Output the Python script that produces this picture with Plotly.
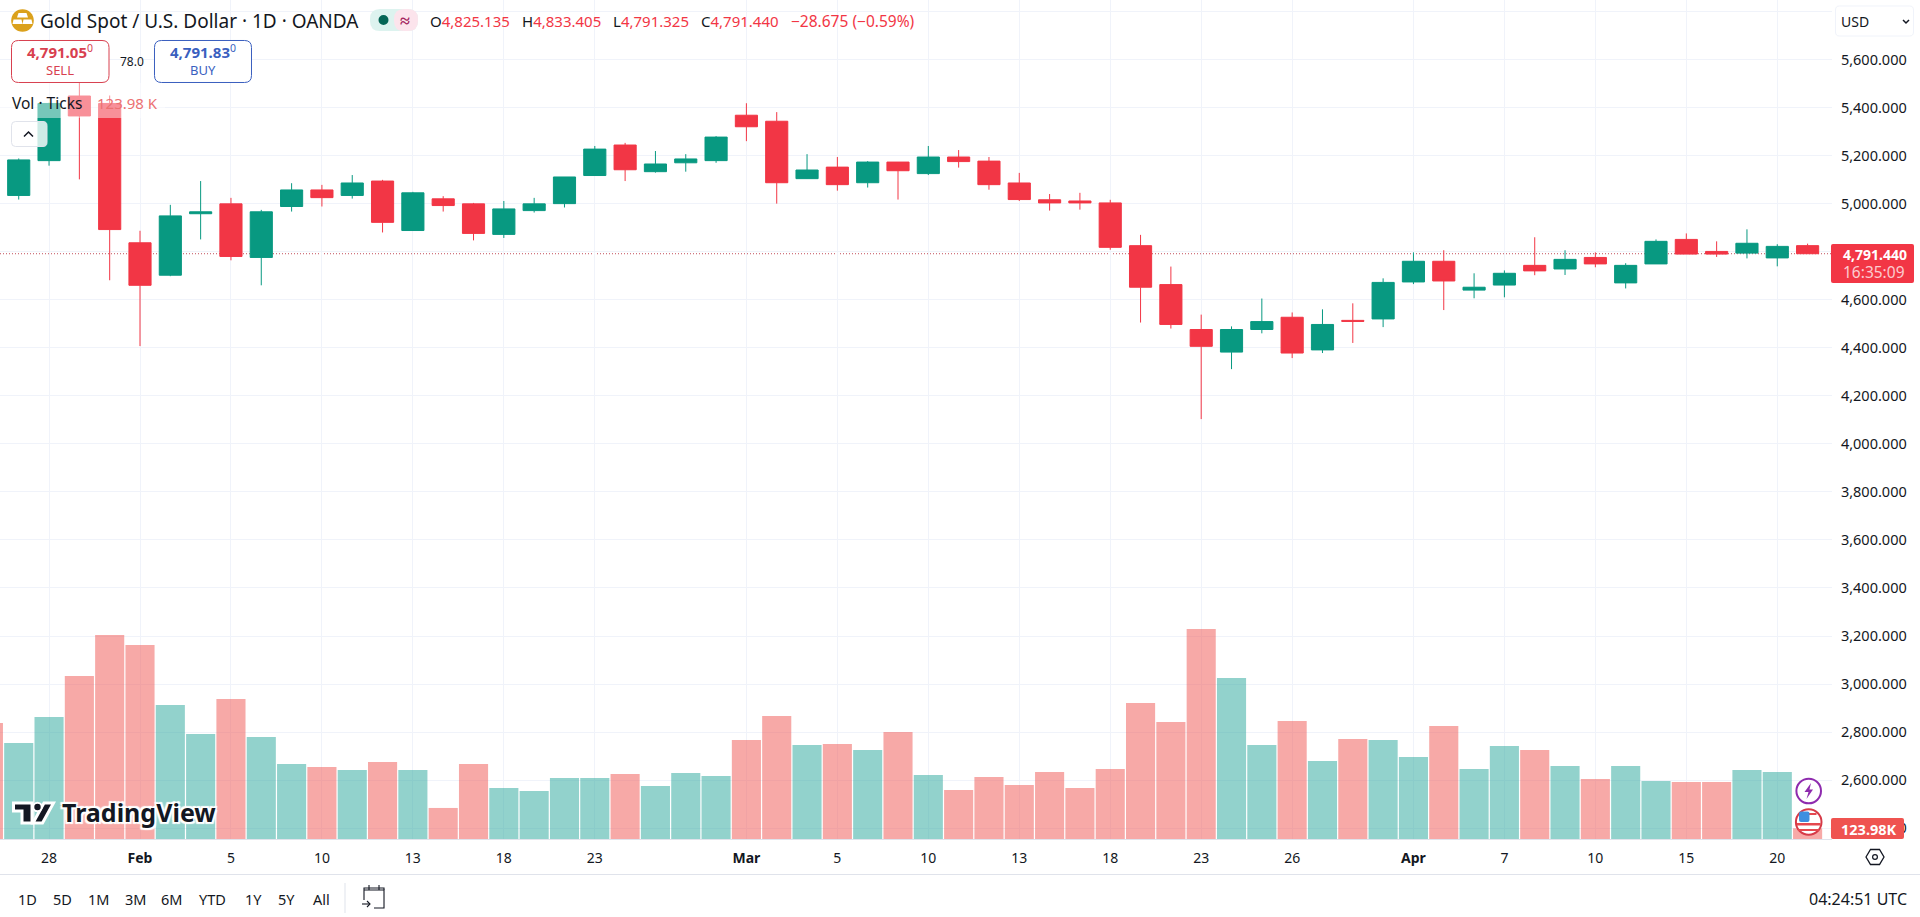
import plotly.graph_objects as go

# Data
dates = ["2026-01-26", "2026-01-27", "2026-01-28", "2026-01-29", "2026-01-30",
         "2026-02-02", "2026-02-03", "2026-02-04", "2026-02-05", "2026-02-06",
         "2026-02-09", "2026-02-10", "2026-02-11", "2026-02-12", "2026-02-13",
         "2026-02-16", "2026-02-17", "2026-02-18", "2026-02-19", "2026-02-20",
         "2026-02-23", "2026-02-24", "2026-02-25", "2026-02-26", "2026-02-27",
         "2026-03-02", "2026-03-03", "2026-03-04", "2026-03-05", "2026-03-06",
         "2026-03-09", "2026-03-10", "2026-03-11", "2026-03-12", "2026-03-13",
         "2026-03-16", "2026-03-17", "2026-03-18", "2026-03-19", "2026-03-20",
         "2026-03-23", "2026-03-24", "2026-03-25", "2026-03-26", "2026-03-27",
         "2026-03-30", "2026-03-31", "2026-04-01", "2026-04-02",
         "2026-04-06", "2026-04-07", "2026-04-08", "2026-04-09", "2026-04-10",
         "2026-04-13", "2026-04-14", "2026-04-15", "2026-04-16", "2026-04-17",
         "2026-04-20", "2026-04-21"]

# candles start on Jan 27, the Jan 26 candle is off the left edge
opens = [5034, 5179, 5448, 5417, 4837, 4702, 4958, 4999, 4776, 4988,
         5057, 5034, 5094, 4888, 5020, 4999, 4872, 4971, 5000, 5117,
         5244, 5133, 5170, 5179, 5368, 5343, 5104, 5152, 5087, 5173,
         5125, 5194, 5177, 5086, 5016, 5011, 5003, 4825, 4663, 4476,
         4382, 4476, 4527, 4391, 4514, 4520, 4674, 4760, 4640, 4661,
         4743, 4728, 4776, 4670, 4749, 4851, 4801, 4794, 4774, 4825.135]
highs = [5188, 5420, 5597, 5450, 4887, 4995, 5094, 5024, 4974, 5085,
         5078, 5119, 5099, 5049, 5031, 5003, 5011, 5024, 5111, 5240,
         5253, 5219, 5206, 5281, 5418, 5381, 5206, 5194, 5177, 5173,
         5240, 5223, 5194, 5128, 5040, 5045, 5016, 4870, 4738, 4538,
         4489, 4605, 4547, 4560, 4585, 4689, 4797, 4806, 4710, 4722,
         4860, 4806, 4797, 4752, 4851, 4876, 4843, 4893, 4831, 4833.405]
lows = [5017, 5158, 5101, 4681, 4407, 4698, 4851, 4764, 4660, 4967,
        4988, 5021, 4880, 4887, 4967, 4847, 4857, 4963, 4984, 5117,
        5094, 5129, 5133, 5170, 5260, 5000, 5103, 5054, 5067, 5017,
        5119, 5150, 5058, 5011, 4971, 4975, 4808, 4505, 4480, 4103,
        4311, 4460, 4357, 4378, 4420, 4486, 4665, 4557, 4606, 4610,
        4702, 4703, 4735, 4647, 4749, 4790, 4778, 4772, 4739, 4791.325]
closes = [5182, 5417, 5365, 4892, 4660, 4949, 4966, 4780, 4966, 5057,
          5025, 5086, 4922, 5045, 4992, 4876, 4978, 4999, 5111, 5227,
          5141, 5165, 5186, 5277, 5320, 5087, 5140, 5079, 5173, 5137,
          5194, 5175, 5079, 5017, 5003, 5003, 4818, 4652, 4497, 4406,
          4476, 4509, 4378, 4497, 4510, 4672, 4760, 4678, 4652, 4710,
          4720, 4768, 4749, 4743, 4843, 4790, 4790, 4835, 4822, 4791.44]

# volume in thousands of ticks, from Jan 26
volumes = [1346, 1114, 1415, 1891, 2367, 2251, 1554, 1218, 1624, 1183,
           870, 835, 800, 893, 800, 360, 870, 592, 557, 708,
           708, 754, 615, 766, 731, 1148, 1427, 1090, 1102, 1032,
           1241, 742, 568, 719, 626, 777, 592, 812, 1578, 1357,
           2436, 1868, 1090, 1369, 905, 1160, 1148, 951, 1311, 812,
           1079, 1032, 847, 696, 847, 673, 661, 661, 800, 777, 123.98]
volume_up = [False, True, True, False, False, False, True, True, False, True,
             True, False, True, False, True, False, False, True, True, True,
             True, False, True, True, True, False, False, True, False, True,
             False, True, False, False, False, False, False, False, False, False,
             False, True, True, False, True, False, True, True, False, True,
             True, False, True, False, True, True, False, False, True, True, False]

x_tick_dates = ["2026-01-28", "2026-02-02", "2026-02-05", "2026-02-10", "2026-02-13",
                "2026-02-18", "2026-02-23", "2026-03-02", "2026-03-05", "2026-03-10",
                "2026-03-13", "2026-03-18", "2026-03-23", "2026-03-26", "2026-04-01",
                "2026-04-07", "2026-04-10", "2026-04-15", "2026-04-20"]
x_tick_text = ["28", "<b>Feb</b>", "5", "10", "13", "18", "23", "<b>Mar</b>", "5", "10",
               "13", "18", "23", "26", "<b>Apr</b>", "7", "10", "15", "20"]
price_ticks = [2400, 2600, 2800, 3000, 3200, 3400, 3600, 3800, 4000, 4200,
               4400, 4600, 4800, 5000, 5200, 5400, 5600, 5800]
last_price = 4791.44

range_buttons = ["1D", "5D", "1M", "3M", "6M", "YTD", "1Y", "5Y", "All"]
range_button_x = [27.5, 62.5, 98.6, 135, 171.5, 212.5, 253, 286.6, 321.5]

# Page geometry
FIG_W = 1920
FIG_H = 917
PLOT_W = 1832
PLOT_H = 839
GREEN = "#089981"
RED = "#F23645"
TEXT = "#131722"
FONT = "Noto Sans"


def px(x):
    return x / PLOT_W


def py(y):
    return 1 - y / PLOT_H


def rect(x0, y0, x1, y1, fill, line=None, width=1):
    return dict(type="rect", xref="paper", yref="paper", x0=px(x0), x1=px(x1), y0=py(y0), y1=py(y1),
                fillcolor=fill, line=dict(color=line or "rgba(0,0,0,0)", width=width if line else 0))


def circle(cx, cy, r, fill, line=None, width=1):
    return dict(type="circle", xref="paper", yref="paper", x0=px(cx - r), x1=px(cx + r), y0=py(cy + r), y1=py(cy - r),
                fillcolor=fill, line=dict(color=line or "rgba(0,0,0,0)", width=width if line else 0))


def poly(points, fill=None, line=None, width=1, close=True):
    d = "M" + " L".join(f"{px(x):.5f},{py(y):.5f}" for x, y in points) + (" Z" if close else "")
    return dict(type="path", xref="paper", yref="paper", path=d, fillcolor=fill or "rgba(0,0,0,0)",
                line=dict(color=line or "rgba(0,0,0,0)", width=width if line else 0))


def round_rect(x0, y0, x1, y1, r, fill, line=None, width=1):
    a, b, c, d = px(x0), px(x1), py(y0), py(y1)
    rx, ry = r / PLOT_W, r / PLOT_H
    p = (f"M{a + rx:.5f},{c:.5f} L{b - rx:.5f},{c:.5f} Q{b:.5f},{c:.5f} {b:.5f},{c - ry:.5f} "
         f"L{b:.5f},{d + ry:.5f} Q{b:.5f},{d:.5f} {b - rx:.5f},{d:.5f} "
         f"L{a + rx:.5f},{d:.5f} Q{a:.5f},{d:.5f} {a:.5f},{d + ry:.5f} "
         f"L{a:.5f},{c - ry:.5f} Q{a:.5f},{c:.5f} {a + rx:.5f},{c:.5f} Z")
    return dict(type="path", xref="paper", yref="paper", path=p, fillcolor=fill,
                line=dict(color=line or "rgba(0,0,0,0)", width=width if line else 0))


def label(x, y, s, size=13, color=TEXT, anchor="left", **font):
    return dict(xref="paper", yref="paper", x=px(x), y=py(y), text=s, showarrow=False,
                xanchor=anchor, yanchor="middle", borderpad=0,
                font=dict(family=FONT, size=size, color=color, **font))


fig = go.Figure()
fig.add_trace(go.Candlestick(
    x=dates[1:], open=opens, high=highs, low=lows, close=closes,
    increasing=dict(line=dict(color=GREEN, width=1), fillcolor=GREEN),
    decreasing=dict(line=dict(color=RED, width=1), fillcolor=RED),
    whiskerwidth=0, showlegend=False,
))
fig.add_trace(go.Bar(
    x=dates, y=volumes, yaxis="y2", showlegend=False,
    marker=dict(color=["rgba(38,166,154,0.5)" if u else "rgba(239,83,80,0.5)" for u in volume_up], line_width=0),
))

shapes = []
annotations = []

# last price line
shapes.append(dict(type="line", xref="paper", yref="y", x0=0, x1=1, y0=last_price, y1=last_price,
                   layer="below", line=dict(color="#C2505C", width=1, dash="1px,2px")))

# legend veil over the candles
shapes.append(rect(0, 83, 165, 118, "rgba(255,255,255,0.45)"))

# header
shapes.append(circle(22.5, 20.5, 11.3, "#DBA11C"))
shapes.append(poly([(18.5, 13), (26.5, 13), (28, 17.5), (17, 17.5)], "white"))
shapes.append(poly([(13.5, 19.5), (21.5, 19.5), (22.5, 24), (12.5, 24)], "white"))
shapes.append(poly([(23.5, 19.5), (31.5, 19.5), (32.5, 24), (22.5, 24)], "white"))
annotations.append(label(38.5, 21, "Gold Spot / U.S. Dollar · 1D · OANDA", 19))

shapes.append(round_rect(370, 9, 418, 31, 10, "#DDF3EF"))
shapes.append(round_rect(394, 9, 418, 31, 10, "#FCE4EC"))
shapes.append(circle(383.5, 20, 5, "#056656"))
annotations.append(label(405, 20, "<b>≈</b>", 18, "#A5275F", "center"))

ohlc_x = [428.6, 520.5, 612, 700]
ohlc_key = ["O", "H", "L", "C"]
ohlc_val = ["4,825.135", "4,833.405", "4,791.325", "4,791.440"]
for xx, k, v in zip(ohlc_x, ohlc_key, ohlc_val):
    annotations.append(label(xx, 21, f'{k}<span style="color:{RED}">{v}</span>', 15))
annotations.append(label(790, 21, "−28.675 (−0.59%)", 15.5, RED))

# sell / buy boxes
shapes.append(round_rect(11.5, 40.5, 109, 82.5, 7, "white", "#D8404F"))
shapes.append(round_rect(154.5, 40.5, 251.5, 82.5, 7, "white", "#3A5FBF"))
annotations.append(label(60, 52, "<b>4,791.05</b><sup>0</sup>", 15, "#D8404F", "center"))
annotations.append(label(60, 70, "SELL", 13, "#D8404F", "center"))
annotations.append(label(203, 52, "<b>4,791.83</b><sup>0</sup>", 15, "#3A5FBF", "center"))
annotations.append(label(203, 70, "BUY", 13, "#3A5FBF", "center"))
annotations.append(label(131.5, 61, "78.0", 12, TEXT, "center"))

annotations.append(label(11, 103, "Vol · Ticks", 15.5))
annotations.append(label(96, 103, "123.98 K", 15, "#EC7172"))

# collapse button
shapes.append(round_rect(11.5, 121.5, 47, 146.5, 4, "rgba(255,255,255,0.8)", "#E0E3EB"))
shapes.append(poly([(24, 136.5), (28.5, 132), (33, 136.5)], None, TEXT, 1.5, close=False))

# usd button
shapes.append(rect(1833, 0, FIG_W, 37, "white"))
shapes.append(round_rect(1835.5, 6, 1913.5, 36, 4, "white", "#F0F3FA"))
annotations.append(label(1840, 21.5, "USD", 14))
shapes.append(poly([(1903, 20), (1906, 23), (1909, 20)], None, TEXT, 1.5, close=False))

# price label
shapes.append(round_rect(1831, 244, 1914, 283, 2, RED))
annotations.append(label(1842, 254, "<b>4,791.440</b>", 14, "white"))
annotations.append(label(1842, 272, "16:35:09", 15.5, "rgba(255,255,255,0.75)"))

# volume label
shapes.append(round_rect(1831, 818, 1904, 839, 2, "#EF5350"))
annotations.append(label(1898, 829, "<b>123.98K</b>", 14.5, "white", "right"))

# tradingview mark
tv_t = [(13.5, 803), (32, 803), (32, 823), (22, 823), (22, 811), (13.5, 811)]
tv_slash = [(44, 803), (53.5, 803), (42.5, 823), (33, 823)]
shapes.append(poly(tv_t, "#131722", "white", 3))
shapes.append(poly(tv_slash, "#131722", "white", 3))
shapes.append(circle(37.5, 807, 4.2, "#131722", "white", 2))
annotations.append(label(61, 812, "TradingView", 25, "#131722", weight=700,
                         shadow="1px 0 1px white, -1px 0 1px white, 0 1px 1px white, 0 -1px 1px white, 2px 2px 1px white, -2px -2px 1px white, 2px -2px 1px white, -2px 2px 1px white"))

# event icons
shapes.append(circle(1808.7, 791, 12.3, "white", "#8E2BAE", 2))
shapes.append(poly([(1811, 783), (1804.5, 792), (1808.5, 792), (1806.5, 799), (1813, 789.5), (1809.5, 789.5)], "#8E2BAE"))
shapes.append(circle(1808.7, 822, 12.8, "white", "#D63A47", 2))
shapes.append(rect(1801, 813, 1816.5, 815, "#E5484F"))
shapes.append(rect(1797, 823, 1820.5, 825.5, "#E5484F"))
shapes.append(rect(1798, 829, 1819, 831, "#E5484F"))
shapes.append(round_rect(1799, 811.5, 1809.5, 822, 2, "#3D8FE0"))

# gear
shapes.append(poly([(1866, 857), (1870.5, 849.5), (1879.5, 849.5), (1884, 857), (1879.5, 864.5), (1870.5, 864.5)], "white", TEXT, 1.3))
shapes.append(circle(1875, 857, 2.4, "white", TEXT, 1.2))

# bottom toolbar
shapes.append(rect(0, 874, FIG_W, 875, "#E0E3EB"))
shapes.append(rect(344.5, 883, 345.5, 913, "#E0E3EB"))
for xx, s in zip(range_button_x, range_buttons):
    annotations.append(label(xx, 899, s, 14.5, TEXT, "center"))
annotations.append(label(1908, 899, "04:24:51 UTC", 16, TEXT, "right"))

# calendar icon
shapes.append(poly([(364, 890), (384, 890), (384, 908), (374, 908)], None, TEXT, 1.1, close=False))
shapes.append(poly([(364, 900), (364, 888), (384, 888), (384, 890)], None, TEXT, 1.1, close=False))
shapes.append(poly([(369, 885), (369, 890)], None, TEXT, 1.1, close=False))
shapes.append(poly([(379, 885), (379, 890)], None, TEXT, 1.1, close=False))
shapes.append(poly([(362, 904), (370, 904)], None, TEXT, 1.1, close=False))
shapes.append(poly([(367, 901), (370, 904), (367, 907)], None, TEXT, 1.1, close=False))

bar_step = 30.32
x_start = 11.6 / bar_step
grid = "#F0F3FA"

fig.update_layout(
    width=FIG_W, height=FIG_H,
    margin=dict(l=0, r=FIG_W - PLOT_W, t=0, b=FIG_H - PLOT_H, pad=0),
    paper_bgcolor="white", plot_bgcolor="white",
    font=dict(family=FONT, size=14, color=TEXT),
    boxgap=0.27, boxgroupgap=0, bargap=0.04,
    xaxis=dict(
        type="category", categoryorder="array", categoryarray=dates,
        range=[x_start, x_start + PLOT_W / bar_step],
        tickmode="array", tickvals=x_tick_dates, ticktext=x_tick_text,
        showgrid=True, gridcolor=grid, gridwidth=1,
        showline=True, linecolor="#E0E3EB", linewidth=1,
        ticks="outside", ticklen=6, tickcolor="rgba(0,0,0,0)",
        tickfont=dict(size=14, color=TEXT),
        rangeslider=dict(visible=False), fixedrange=True, zeroline=False,
    ),
    yaxis=dict(
        side="right", range=[2355, 5847.7],
        tickmode="array", tickvals=price_ticks, tickformat=",.3f",
        showgrid=True, gridcolor=grid, gridwidth=1, zeroline=False,
        ticks="outside", ticklen=5, tickcolor="rgba(0,0,0,0)",
        tickfont=dict(size=14.5, color=TEXT), fixedrange=True,
    ),
    yaxis2=dict(overlaying="y", side="left", range=[0, 9732], visible=False, fixedrange=True),
    shapes=shapes, annotations=annotations,
)

fig.write_html("out.html", config=dict(displayModeBar=False),
               post_script="document.body.style.margin='0';document.body.style.overflow='hidden';")
